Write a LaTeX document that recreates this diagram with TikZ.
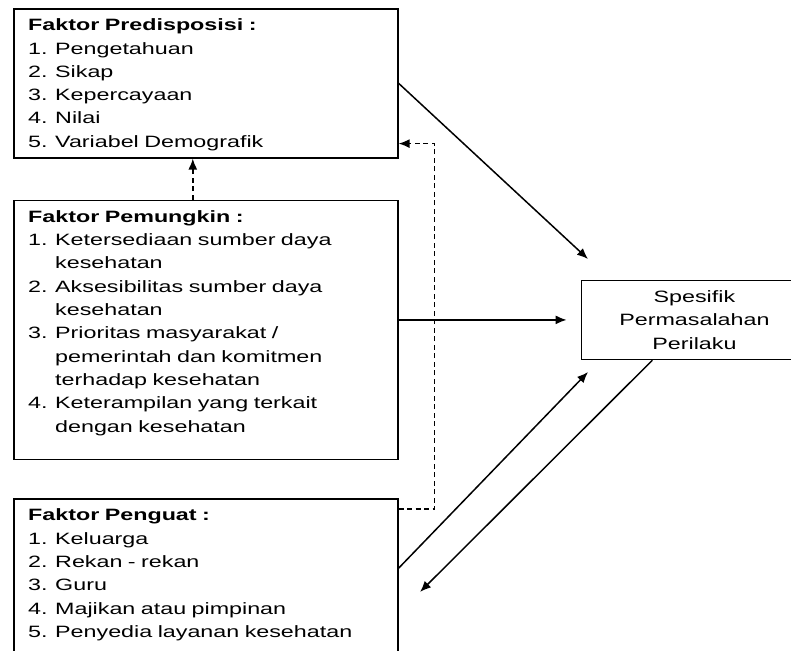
\documentclass[tikz,border=0pt]{standalone}
\usepackage{fontspec}
\setmainfont{Liberation Sans}[FakeStretch=1.42]
\usepackage{tikz}
\usetikzlibrary{calc}
\usetikzlibrary{positioning}
\usetikzlibrary{arrows.meta}

\newcommand{\teks}{\fontsize{16.4pt}{23.3pt}\selectfont}
\newcommand{\butir}[2]{\par\noindent\hangindent=27pt\hangafter=1\makebox[27pt][l]{#1.}#2}

\begin{document}
\begin{tikzpicture}[x=1pt,y=-1pt,
		kotak/.style={draw,line width=1.6pt,rectangle,inner sep=0pt},
		isi/.style={anchor=north west,inner sep=0pt,text width=365pt,align=left,font=\teks},
		panah/.style={line width=1.5pt,-{Latex[length=11pt,width=9pt]}},
		putus/.style={panah,dash pattern=on 5pt off 3.5pt}]
		\useasboundingbox (0,0) rectangle (791,650);

		\node [kotak,anchor=north west,minimum width=384pt,minimum height=149pt] (predisposisi) at (13,8) {};
		\node [kotak,below=41pt of predisposisi.south west,anchor=north west,minimum width=384pt,minimum height=259pt] (pemungkin) {};
		\node [kotak,below=38pt of pemungkin.south west,anchor=north west,minimum width=384pt,minimum height=175pt] (penguat) {};
		\node [kotak,right=182pt of pemungkin.east,yshift=10pt,minimum width=226pt,minimum height=79pt,align=center,font=\teks] (spesifik) {Spesifik\\Permasalahan\\Perilaku};

		\node [isi] (predisposisi-isi) at ([xshift=15pt,yshift=-10.7pt]predisposisi.north west) {\textbf{Faktor Predisposisi :}
			\butir{1}{Pengetahuan}
			\butir{2}{Sikap}
			\butir{3}{Kepercayaan}
			\butir{4}{Nilai}
			\butir{5}{Variabel Demografik}\par};
		\node [isi] (pemungkin-isi) at ([xshift=15pt,yshift=-10.7pt]pemungkin.north west) {\textbf{Faktor Pemungkin :}
			\butir{1}{Ketersediaan sumber daya\newline kesehatan}
			\butir{2}{Aksesibilitas sumber daya\newline kesehatan}
			\butir{3}{Prioritas masyarakat /\newline pemerintah dan komitmen\newline terhadap kesehatan}
			\butir{4}{Keterampilan yang terkait\newline dengan kesehatan}\par};
		\node [isi] (penguat-isi) at ([xshift=15pt,yshift=-10.7pt]penguat.north west) {\textbf{Faktor Penguat :}
			\butir{1}{Keluarga}
			\butir{2}{Rekan - rekan}
			\butir{3}{Guru}
			\butir{4}{Majikan atau pimpinan}
			\butir{5}{Penyedia layanan kesehatan}\par};

		\coordinate (ujung-atas) at (588,259);
		\coordinate (ujung-bawah) at (588,372);
		\coordinate (ujung-kiri) at (420,592);

		\draw [panah] (predisposisi.east) -- (ujung-atas);
		\draw [panah] (pemungkin.east |- spesifik.west) -- ([xshift=-14pt]spesifik.west);
		\draw [panah] ([yshift=-70pt]penguat.north east) -- (ujung-bawah);
		\draw [panah] ([xshift=-42pt]spesifik.south) -- (ujung-kiri);

		\draw [putus] ([xshift=-13pt]pemungkin.north) -- ([xshift=-13pt]predisposisi.south);
		\draw [putus] ([yshift=-11pt]penguat.north east) -- ++(36,0) |- ([yshift=15pt]predisposisi.south east);
	\end{tikzpicture}
\end{document}
